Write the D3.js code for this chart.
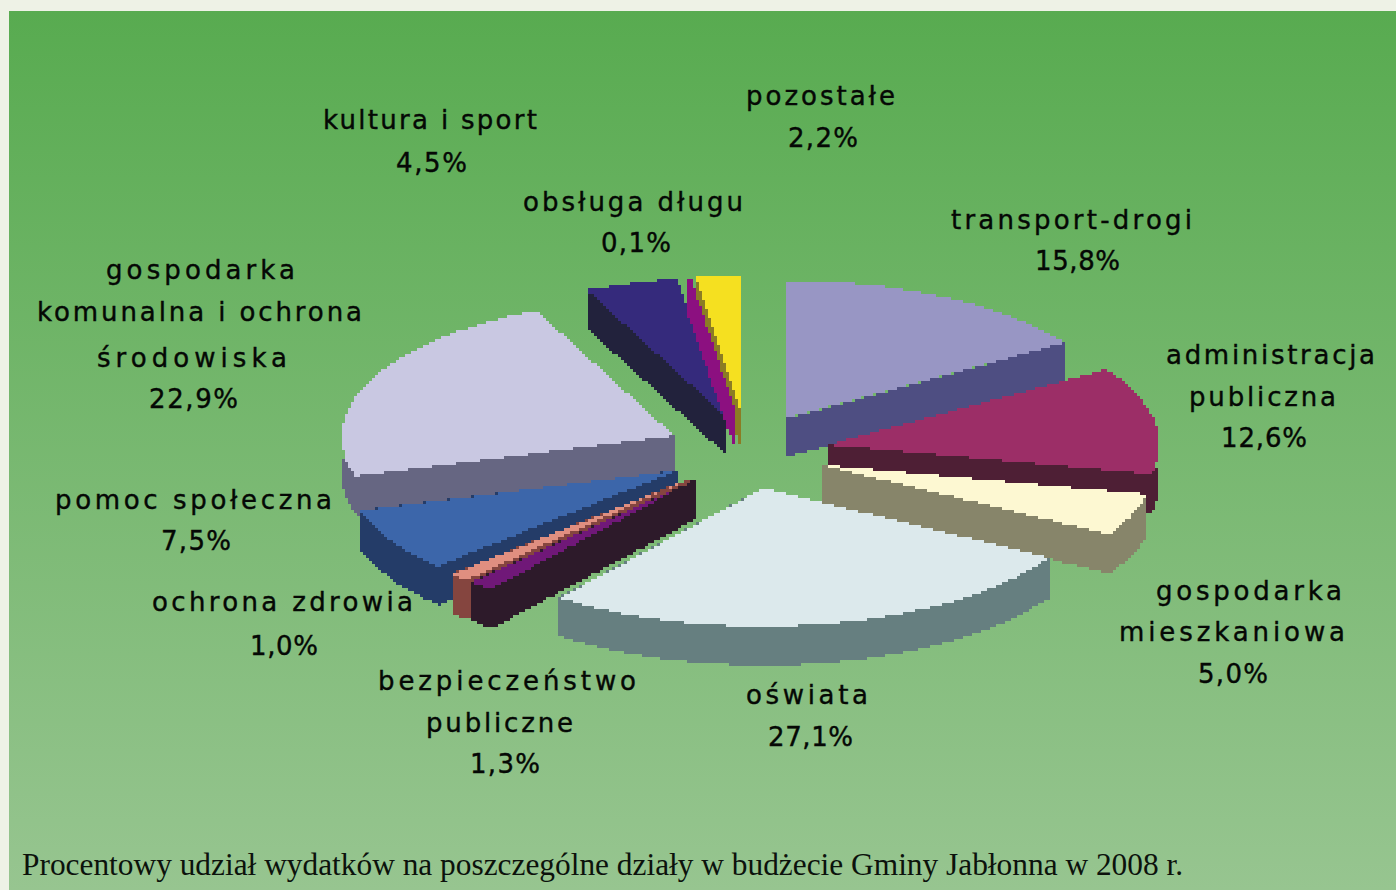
<!DOCTYPE html>
<html><head><meta charset="utf-8">
<script src="https://cdn.jsdelivr.net/npm/d3@7"></script>
<style>html,body{margin:0;padding:0;background:#eef2e6;overflow:hidden}svg{display:block}</style>
</head><body><svg id="c" width="1396" height="890"></svg>
<script>
// data
const categories = ["transport-drogi","administracja publiczna","gospodarka mieszkaniowa","oświata","bezpieczeństwo publiczne","ochrona zdrowia","pomoc społeczna","gospodarka komunalna i ochrona środowiska","kultura i sport","obsługa długu","pozostałe"];
const values = [15.8,12.6,5.0,27.1,1.3,1.0,7.5,22.9,4.5,0.1,2.2];
const labelLines = [["transport-drogi"],["administracja","publiczna"],["gospodarka","mieszkaniowa"],["oświata"],["bezpieczeństwo","publiczne"],["ochrona zdrowia"],["pomoc społeczna"],["gospodarka","komunalna i ochrona","środowiska"],["kultura i sport"],["obsługa długu"],["pozostałe"]];
const topColors = ["#9896c4","#9c2e67","#fdf8d2","#dce9ec","#701878","#e08f80","#3c66aa","#c9c8e2","#352a7c","#8c1080","#f5e020"];
const wallColors = ["#4e4e82","#4e1f35","#87856a","#667f80","#2d1a2a","#85453f","#243c68","#666682","#22223c","#8c1080","#8b7c24"];
const drawOrder = [0,8,10,9,7,1,2,6,5,4,3];
// layout (x-left, x-right, baseline) for every line of each label, then the percentage
const labelLayout = [
 [[951,1192,228.5],[1035,1120,269.5]],
 [[1166,1375,363.5],[1189,1336,405.5],[1221,1307,446.5]],
 [[1156,1342,599.5],[1119,1345,640.5],[1198,1268,682.5]],
 [[746,868,703.5],[768,853,745.5]],
 [[378,636,689.5],[426,573,731.5],[470,540,772.5]],
 [[152,413,610.5],[250,318,654.5]],
 [[55,332,508.5],[161,231,549.5]],
 [[106,295,278.5],[37,362,320.5],[97,287,366.5],[149,238,407.5]],
 [[323,537,128.5],[396,467,171.5]],
 [[523,743,210.5],[601,671,251.5]],
 [[746,895,104.5],[788,858,146.5]]
];
const caption = "Procentowy udział wydatków na poszczególne działy w budżecie Gminy Jabłonna w 2008 r.";

const W=1396,H=890,cx=747.5,cy=451.5,rx=332,ry=138,depth=39,exX=.244,exY=.272,px=3;
const svg=d3.select("#c");
const defs=svg.append("defs");
const g=defs.append("linearGradient").attr("id","bg").attr("x1",0).attr("y1",0).attr("x2",0).attr("y2",1);
g.append("stop").attr("offset",0).attr("stop-color","#58ab50");
g.append("stop").attr("offset",1).attr("stop-color","#97c590");
svg.append("rect").attr("width",W).attr("height",H).attr("fill","#eef2e6");
svg.append("rect").attr("x",9).attr("y",11).attr("width",W-9).attr("height",H-11).attr("fill","url(#bg)");

const x=d3.scaleLinear().domain([-1,1]).range([cx-rx,cx+rx]);
const y=d3.scaleLinear().domain([-1,1]).range([cy-ry,cy+ry]);
const arcs=d3.pie().sort(null).value(d=>d)(values);
const step=d3.line().curve(d3.curveStepAfter);
const snap=v=>Math.round(v/px)*px;
function dense(pts){
  const out=[];
  const closed=pts.concat([pts[0]]);
  for(let i=0;i<closed.length-1;i++){
    const [a,b]=[closed[i],closed[i+1]];
    const n=Math.max(1,Math.ceil(Math.hypot(b[0]-a[0],b[1]-a[1])/1.5));
    for(let k=0;k<n;k++){out.push([snap(a[0]+(b[0]-a[0])*k/n),snap(a[1]+(b[1]-a[1])*k/n)]);}
  }
  return out;
}
const pathOf=pts=>step(dense(pts))+"Z";
const layer=svg.append("g").attr("shape-rendering","crispEdges");
drawOrder.forEach(i=>{
  const a=arcs[i], mid=(a.startAngle+a.endAngle)/2, e=d3.pointRadial(mid,1);
  const pt=(t,r=1,dz=0)=>{const u=d3.pointRadial(t,r);return [x(e[0]*exX+u[0]),y(e[1]*exY+u[1])+dz];};
  const ts=d3.range(0,41).map(k=>a.startAngle+(a.endAngle-a.startAngle)*k/40);
  const rim=ts.map(t=>pt(t));
  const rimLow=ts.map(t=>pt(t,1,depth)).reverse();
  const apex=pt(0,0), apexLow=pt(0,0,depth);
  const sg=layer.append("g").attr("class","slice");
  // cut faces
  sg.append("path").attr("d",pathOf([apex,rim[0],pt(a.startAngle,1,depth),apexLow])).attr("fill",wallColors[i]);
  sg.append("path").attr("d",pathOf([apex,rim[40],pt(a.endAngle,1,depth),apexLow])).attr("fill",wallColors[i]);
  // outer wall
  sg.append("path").attr("d",pathOf(rim.concat(rimLow))).attr("fill",wallColors[i]);
  // top
  sg.append("path").attr("d",pathOf([apex].concat(rim))).attr("fill",topColors[i]);
});
const fmt=v=>v.toFixed(1).replace(".",",")+"%";
const labels=svg.append("g").attr("font-family","'DejaVu Sans'").attr("font-size",26).attr("fill","#050805").attr("stroke","#050805").attr("stroke-width",0.4);
labelLayout.forEach((rows,i)=>{
  const lines=labelLines[i].concat([fmt(values[i])]);
  rows.forEach((r,j)=>{
    labels.append("text").attr("x",r[0]).attr("y",r[2]).attr("textLength",r[1]-r[0]).attr("lengthAdjust","spacing").text(lines[j]);
  });
});
svg.append("text").attr("x",22).attr("y",875).attr("font-family","'Liberation Serif'").attr("font-size",32).attr("fill","#0c120c").attr("textLength",1161).attr("lengthAdjust","spacingAndGlyphs").text(caption);
</script></body></html>
